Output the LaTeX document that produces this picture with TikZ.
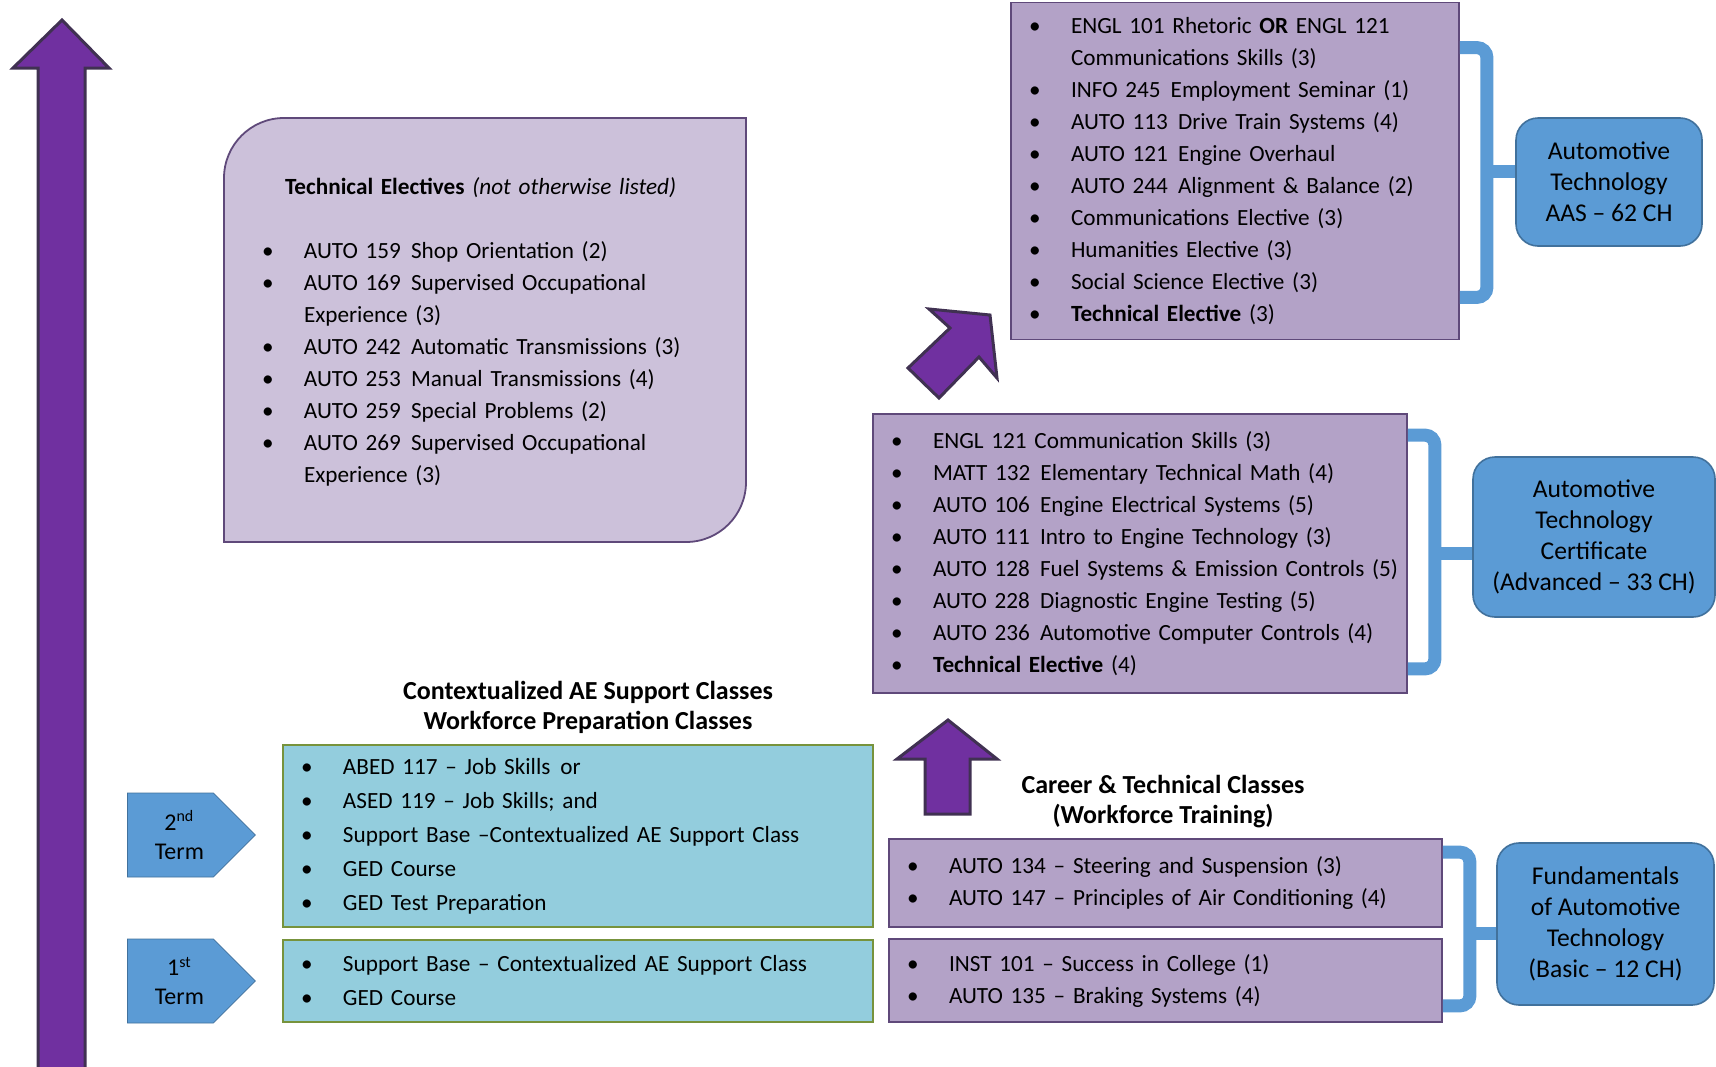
\documentclass[tikz,border=0pt]{standalone}
\usepackage{fontspec}
\setmainfont{Carlito}
\usetikzlibrary{calc,shapes.symbols,backgrounds}
\definecolor{arrowpurple}{HTML}{7030A0}
\definecolor{arrowedge}{HTML}{403152}
\definecolor{lilac}{HTML}{CCC1DA}
\definecolor{mauve}{HTML}{B3A2C7}
\definecolor{mauveedge}{HTML}{5F497A}
\definecolor{aqua}{HTML}{93CDDD}
\definecolor{olive}{HTML}{77933C}
\definecolor{steel}{HTML}{5B9BD5}
\definecolor{steeledge}{HTML}{41719C}
\newcommand{\itm}{\makebox[21pt][l]{\textbullet}}
\newcommand{\ind}{\hspace*{21pt}}
\newcommand{\gap}{\hspace{0.1em} }

\begin{document}
\begin{tikzpicture}[x=0.5pt, y=-0.5pt,
    course/.style ={draw=mauveedge, fill=mauve, line width=0.9pt, align=left, inner xsep=9pt, inner ysep=0pt, font=\fontsize{11.6}{16}\selectfont},
    support/.style ={course, draw=olive, fill=aqua, font=\fontsize{11.6}{17}\selectfont},
    goal/.style ={draw=steeledge, fill=steel, rounded corners=11pt, align=center, inner sep=0pt, line width=0.8pt, font=\fontsize{12.8}{15.5}\selectfont},
    termtag/.style ={signal, signal to=east, draw=steeledge, fill=steel, inner sep=0pt, minimum width=64pt, minimum height=42pt, align=center, font=\fontsize{12}{14.5}\selectfont},
    heading/.style ={align=center, font=\bfseries\fontsize{13}{15}\selectfont},
    uparrow/.style ={draw=arrowedge, fill=arrowpurple, line width=1.5pt},
    joiner/.style ={draw=steel, line width=6.5pt, rounded corners=5pt}]
   \useasboundingbox (0,0) rectangle (1716,1066);

   \draw[uparrow] (38,1080) -- (38,68) -- (13,68) -- (62,20) -- (109,68) -- (85,68) -- (85,1080) -- cycle;
   \draw[uparrow] (925,814) -- (925,759) -- (897,759) -- (948,720) -- (997,759) -- (970,759) -- (970,814) -- cycle;
   \draw[uparrow] (908,368) -- (950,328) -- (929,309) -- (990,315) -- (997,378) -- (979,357) -- (939,398) -- cycle;

   \node[course, text width=243pt, minimum height=212pt, draw=none, fill=none] (tech) at (485,332)
     {\hspace*{21.5pt}\textbf{Technical Electives} \textit{(not otherwise listed)}\\[16pt]
      \hspace*{10pt}\itm AUTO 159\gap Shop Orientation (2)\\
      \hspace*{10pt}\itm AUTO 169\gap Supervised Occupational\\
      \hspace*{31pt}Experience (3)\\
      \hspace*{10pt}\itm AUTO 242\gap Automatic Transmissions (3)\\
      \hspace*{10pt}\itm AUTO 253\gap Manual Transmissions (4)\\
      \hspace*{10pt}\itm AUTO 259\gap Special Problems (2)\\
      \hspace*{10pt}\itm AUTO 269\gap Supervised Occupational\\
      \hspace*{31pt}Experience (3)};
   \begin{scope}[on background layer]
   \draw[draw=mauveedge, fill=lilac, line width=0.9pt] (224,542) -- (224,178)
     arc[start angle=180, end angle=90, radius=30pt] -- (746,118) -- (746,482)
     arc[start angle=0, end angle=-90, radius=30pt] -- cycle;
   \end{scope}

   \node[course, text width=206pt, minimum height=168.5pt] (aaslist) at (1235,171)
     {\itm ENGL 101 Rhetoric \textbf{OR} ENGL 121\\
      \ind Communications Skills (3)\\
      \itm INFO 245\gap Employment Seminar (1)\\
      \itm AUTO 113\gap Drive Train Systems (4)\\
      \itm AUTO 121\gap Engine Overhaul\\
      \itm AUTO 244\gap Alignment \& Balance (2)\\
      \itm Communications Elective (3)\\
      \itm Humanities Elective (3)\\
      \itm Social Science Elective (3)\\
      \itm \textbf{Technical Elective} (3)};
   \node[goal, minimum width=93pt, minimum height=64pt] (aas) at (1609,182)
     {Automotive\\Technology\\AAS – 62 CH};

   \node[course, text width=249pt, minimum height=139.5pt] (certlist) at (1140,553.5)
     {\itm ENGL 121 Communication Skills (3)\\
      \itm MATT 132\gap Elementary Technical Math (4)\\
      \itm AUTO 106\gap Engine Electrical Systems (5)\\
      \itm AUTO 111\gap Intro to Engine Technology (3)\\
      \itm \mbox{AUTO 128\gap Fuel Systems \& Emission Controls (5)}\\
      \itm AUTO 228\gap Diagnostic Engine Testing (5)\\
      \itm AUTO 236\gap Automotive Computer Controls (4)\\
      \itm \textbf{Technical Elective} (4)};
   \node[goal, minimum width=121pt, minimum height=80pt] (cert) at (1594,537)
     {Automotive\\Technology\\Certificate\\(Advanced – 33 CH)};

   \node[heading] (career) at (1163,802) {Career \& Technical Classes\\(Workforce Training)};
   \node[course, text width=258.5pt, minimum height=44pt] (steer) at (1165.5,883)
     {\itm AUTO 134 – Steering and Suspension (3)\\
      \itm AUTO 147 – Principles of Air Conditioning (4)};
   \node[course, text width=258.5pt, minimum height=41.5pt] (brake) at (1165.5,980.5)
     {\itm INST 101 – Success in College (1)\\
      \itm AUTO 135 – Braking Systems (4)};
   \node[goal, minimum width=108.5pt, minimum height=81pt] (fund) at (1605.5,924)
     {Fundamentals\\of Automotive\\Technology\\(Basic – 12 CH)};

   \node[heading] (prep) at (588,707) {Contextualized AE Support Classes\\Workforce Preparation Classes};
   \node[support, text width=277pt, minimum height=91pt] (second) at (578,836)
     {\itm ABED 117 – Job Skills\gap or\\
      \itm ASED 119 – Job Skills; and\\
      \itm Support Base –Contextualized AE Support Class\\
      \itm GED Course\\
      \itm GED Test Preparation};
   \node[support, text width=277pt, minimum height=41pt] (first) at (578,981)
     {\itm Support Base – Contextualized AE Support Class\\
      \itm GED Course};
   \node[termtag, anchor=west] (term2) at (127,835) {\hspace*{9pt}2\textsuperscript{nd}\\\hspace*{9pt}Term};
   \node[termtag, anchor=west] (term1) at (127,981) {\hspace*{9pt}1\textsuperscript{st}\\\hspace*{9pt}Term};

   \draw[joiner] ($(aaslist.north east)+(0,46)$) -- ++(27,0) |- ($(aaslist.south east)+(0,-43)$);
   \coordinate (aasjoin) at ($(aaslist.east)+(27,0)$);
   \draw[joiner] (aasjoin) -- (aasjoin -| aas.west);

   \draw[joiner] ($(certlist.north east)+(0,22)$) -- ++(27,0) |- ($(certlist.south east)+(0,-25)$);
   \coordinate (certjoin) at ($(certlist.east)+(27,0)$);
   \draw[joiner] (certjoin) -- (certjoin -| cert.west);

   \draw[joiner] ($(steer.north east)+(0,14)$) -- ++(27,0) |- ($(brake.south east)+(0,-17)$);
   \coordinate (fundjoin) at ($(steer.south east)!0.5!(brake.north east)+(27,0)$);
   \draw[joiner] (fundjoin) -- (fundjoin -| fund.west);
\end{tikzpicture}
\end{document}
